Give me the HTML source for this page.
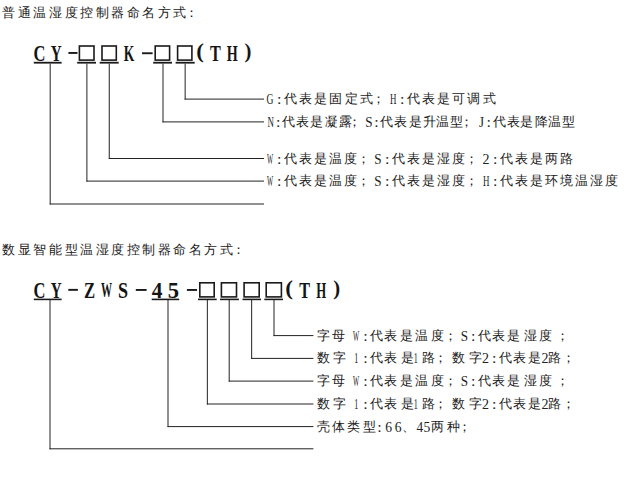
<!DOCTYPE html>
<html><head><meta charset="utf-8"><style>
html,body{margin:0;padding:0;background:#fff;width:626px;height:486px;overflow:hidden;position:relative}
.g,.gr{position:absolute;left:0;top:0;transform-origin:0 0;font-family:"Liberation Serif",serif;font-size:40px;line-height:60px;color:#141414;white-space:nowrap}
.g{font-weight:bold;-webkit-text-stroke:0px #141414}
.gr{color:#222}
.r,.b{position:absolute}
.t,.tt{position:absolute;width:30px;height:30px;line-height:30px;text-align:center;font-family:"Liberation Sans",sans-serif;font-size:13px;color:#1a1a1a}
</style></head><body>
<div class="g" style="transform:translate(33.38px,36.49px) scale(0.4125,0.5654)">C</div>
<div class="g" style="transform:translate(50.72px,36.49px) scale(0.3778,0.5654)">Y</div>
<div class="g" style="transform:translate(123.86px,36.49px) scale(0.3400,0.5654)">K</div>
<div class="g" style="transform:translate(196.26px,36.72px) scale(0.5700,0.5056)">(</div>
<div class="g" style="transform:translate(209.90px,36.49px) scale(0.4040,0.5654)">T</div>
<div class="g" style="transform:translate(226.75px,36.49px) scale(0.3533,0.5654)">H</div>
<div class="g" style="transform:translate(244.38px,35.98px) scale(0.5182,0.5200)">)</div>
<div class="g" style="transform:translate(33.38px,273.92px) scale(0.4125,0.5577)">C</div>
<div class="g" style="transform:translate(50.72px,273.92px) scale(0.3778,0.5577)">Y</div>
<div class="g" style="transform:translate(84.07px,273.92px) scale(0.4174,0.5577)">Z</div>
<div class="g" style="transform:translate(101.12px,274.27px) scale(0.2763,0.5370)">W</div>
<div class="g" style="transform:translate(118.09px,273.92px) scale(0.4526,0.5577)">S</div>
<div class="g" style="transform:translate(151.87px,273.92px) scale(0.5333,0.5577)">4</div>
<div class="g" style="transform:translate(167.87px,273.92px) scale(0.5647,0.5577)">5</div>
<div class="g" style="transform:translate(285.14px,273.36px) scale(0.5800,0.5028)">(</div>
<div class="g" style="transform:translate(299.30px,273.92px) scale(0.4040,0.5577)">T</div>
<div class="g" style="transform:translate(316.18px,273.92px) scale(0.3200,0.5577)">H</div>
<div class="g" style="transform:translate(333.28px,272.63px) scale(0.5182,0.5171)">)</div>
<svg width="626" height="486" style="position:absolute;left:0;top:0"><rect x="79.40" y="46.00" width="14.60" height="14.10" fill="none" stroke="#1a1a1a" stroke-width="1.6"/><rect x="102.00" y="46.00" width="14.30" height="14.10" fill="none" stroke="#1a1a1a" stroke-width="1.6"/><rect x="155.20" y="46.00" width="14.40" height="14.10" fill="none" stroke="#1a1a1a" stroke-width="1.6"/><rect x="177.60" y="46.00" width="14.30" height="14.10" fill="none" stroke="#1a1a1a" stroke-width="1.6"/><rect x="33.8" y="61.8" width="27.80" height="1.80" fill="#1a1a1a"/><rect x="77.2" y="61.8" width="18.80" height="1.80" fill="#1a1a1a"/><rect x="99.7" y="61.8" width="19.00" height="1.80" fill="#1a1a1a"/><rect x="153.2" y="61.8" width="18.80" height="1.80" fill="#1a1a1a"/><rect x="175.6" y="61.8" width="19.10" height="1.80" fill="#1a1a1a"/><rect x="68.4" y="52.0" width="9.10" height="1.90" fill="#1a1a1a"/><rect x="142.0" y="52.3" width="10.60" height="1.90" fill="#1a1a1a"/><rect x="199.80" y="282.80" width="14.40" height="14.10" fill="none" stroke="#1a1a1a" stroke-width="1.6"/><rect x="221.40" y="282.80" width="15.10" height="14.10" fill="none" stroke="#1a1a1a" stroke-width="1.6"/><rect x="244.10" y="282.80" width="15.10" height="14.10" fill="none" stroke="#1a1a1a" stroke-width="1.6"/><rect x="266.20" y="282.80" width="15.20" height="14.10" fill="none" stroke="#1a1a1a" stroke-width="1.6"/><rect x="33.8" y="298.6" width="27.80" height="1.60" fill="#1a1a1a"/><rect x="151.7" y="298.6" width="27.50" height="1.60" fill="#1a1a1a"/><rect x="198.0" y="298.6" width="18.70" height="1.60" fill="#1a1a1a"/><rect x="220.0" y="298.6" width="18.90" height="1.60" fill="#1a1a1a"/><rect x="242.5" y="298.6" width="18.50" height="1.60" fill="#1a1a1a"/><rect x="264.3" y="298.6" width="18.70" height="1.60" fill="#1a1a1a"/><rect x="68.3" y="288.9" width="9.60" height="1.90" fill="#1a1a1a"/><rect x="135.8" y="289.0" width="10.80" height="1.90" fill="#1a1a1a"/><rect x="186.9" y="289.0" width="10.10" height="1.90" fill="#1a1a1a"/><line x1="50.2" y1="63.6" x2="50.2" y2="204.5" stroke="#222" stroke-width="1.0"/><line x1="49.7" y1="204.0" x2="264.0" y2="204.0" stroke="#222" stroke-width="1.0"/><line x1="86.9" y1="63.6" x2="86.9" y2="181.6" stroke="#222" stroke-width="1.0"/><line x1="86.4" y1="181.1" x2="264.0" y2="181.1" stroke="#222" stroke-width="1.0"/><line x1="109.25" y1="63.6" x2="109.25" y2="159.0" stroke="#222" stroke-width="1.0"/><line x1="108.75" y1="158.5" x2="264.0" y2="158.5" stroke="#222" stroke-width="1.0"/><line x1="163.0" y1="63.6" x2="163.0" y2="122.4" stroke="#222" stroke-width="1.0"/><line x1="162.5" y1="121.9" x2="264.0" y2="121.9" stroke="#222" stroke-width="1.0"/><line x1="185.15" y1="63.6" x2="185.15" y2="99.6" stroke="#222" stroke-width="1.0"/><line x1="184.65" y1="99.1" x2="264.0" y2="99.1" stroke="#222" stroke-width="1.0"/><line x1="50.0" y1="300.0" x2="50.0" y2="449.3" stroke="#222" stroke-width="1.0"/><line x1="49.5" y1="448.8" x2="313.4" y2="448.8" stroke="#222" stroke-width="1.0"/><line x1="168.0" y1="300.0" x2="168.0" y2="427.1" stroke="#222" stroke-width="1.0"/><line x1="167.5" y1="426.6" x2="313.4" y2="426.6" stroke="#222" stroke-width="1.0"/><line x1="207.35" y1="300.0" x2="207.35" y2="404.5" stroke="#222" stroke-width="1.0"/><line x1="206.85" y1="404.0" x2="313.4" y2="404.0" stroke="#222" stroke-width="1.0"/><line x1="229.2" y1="300.0" x2="229.2" y2="381.6" stroke="#222" stroke-width="1.0"/><line x1="228.7" y1="381.1" x2="313.4" y2="381.1" stroke="#222" stroke-width="1.0"/><line x1="251.65" y1="300.0" x2="251.65" y2="358.9" stroke="#222" stroke-width="1.0"/><line x1="251.15" y1="358.4" x2="313.4" y2="358.4" stroke="#222" stroke-width="1.0"/><line x1="274.0" y1="300.0" x2="274.0" y2="336.1" stroke="#222" stroke-width="1.0"/><line x1="273.5" y1="335.6" x2="313.4" y2="335.6" stroke="#222" stroke-width="1.0"/></svg>
<div class="tt" style="left:-6.20px;top:-2.10px">普</div>
<div class="tt" style="left:9.35px;top:-2.10px">通</div>
<div class="tt" style="left:24.90px;top:-2.10px">温</div>
<div class="tt" style="left:40.45px;top:-2.10px">湿</div>
<div class="tt" style="left:56.00px;top:-2.10px">度</div>
<div class="tt" style="left:71.55px;top:-2.10px">控</div>
<div class="tt" style="left:87.10px;top:-2.10px">制</div>
<div class="tt" style="left:102.65px;top:-2.10px">器</div>
<div class="tt" style="left:118.20px;top:-2.10px">命</div>
<div class="tt" style="left:133.75px;top:-2.10px">名</div>
<div class="tt" style="left:149.30px;top:-2.10px">方</div>
<div class="tt" style="left:164.85px;top:-2.10px">式</div>
<div class="tt" style="left:176.80px;top:-2.10px">：</div>
<div class="tt" style="left:-6.20px;top:234.50px">数</div>
<div class="tt" style="left:9.35px;top:234.50px">显</div>
<div class="tt" style="left:24.90px;top:234.50px">智</div>
<div class="tt" style="left:40.45px;top:234.50px">能</div>
<div class="tt" style="left:56.00px;top:234.50px">型</div>
<div class="tt" style="left:71.55px;top:234.50px">温</div>
<div class="tt" style="left:87.10px;top:234.50px">湿</div>
<div class="tt" style="left:102.65px;top:234.50px">度</div>
<div class="tt" style="left:118.20px;top:234.50px">控</div>
<div class="tt" style="left:133.75px;top:234.50px">制</div>
<div class="tt" style="left:149.30px;top:234.50px">器</div>
<div class="tt" style="left:164.85px;top:234.50px">命</div>
<div class="tt" style="left:180.40px;top:234.50px">名</div>
<div class="tt" style="left:195.95px;top:234.50px">方</div>
<div class="tt" style="left:211.50px;top:234.50px">式</div>
<div class="tt" style="left:223.45px;top:234.50px">：</div>
<div class="gr" style="transform:translate(266.62px,88.82px) scale(0.2400,0.3577)">G</div>
<div class="gr" style="transform:translate(276.90px,89.49px) scale(0.4000,0.3421)">:</div>
<div class="t" style="left:275.30px;top:84.30px">代</div>
<div class="t" style="left:290.30px;top:84.30px">表</div>
<div class="t" style="left:305.30px;top:84.30px">是</div>
<div class="t" style="left:320.30px;top:84.30px">固</div>
<div class="t" style="left:336.10px;top:84.30px">定</div>
<div class="t" style="left:351.80px;top:84.30px">式</div>
<div class="t" style="left:363.60px;top:84.30px">；</div>
<div class="gr" style="transform:translate(389.88px,88.82px) scale(0.2222,0.3577)">H</div>
<div class="gr" style="transform:translate(399.90px,89.49px) scale(0.4000,0.3421)">:</div>
<div class="t" style="left:398.30px;top:84.30px">代</div>
<div class="t" style="left:413.30px;top:84.30px">表</div>
<div class="t" style="left:428.30px;top:84.30px">是</div>
<div class="t" style="left:443.30px;top:84.30px">可</div>
<div class="t" style="left:458.30px;top:84.30px">调</div>
<div class="t" style="left:474.80px;top:84.30px">式</div>
<div class="gr" style="transform:translate(267.38px,111.12px) scale(0.2222,0.3577)">N</div>
<div class="gr" style="transform:translate(276.10px,111.79px) scale(0.4000,0.3421)">:</div>
<div class="t" style="left:273.20px;top:106.60px">代</div>
<div class="t" style="left:287.20px;top:106.60px">表</div>
<div class="t" style="left:301.60px;top:106.60px">是</div>
<div class="t" style="left:316.30px;top:106.60px">凝</div>
<div class="t" style="left:330.10px;top:106.60px">露</div>
<div class="t" style="left:339.00px;top:106.60px">；</div>
<div class="gr" style="transform:translate(365.31px,111.12px) scale(0.3294,0.3577)">S</div>
<div class="gr" style="transform:translate(374.20px,111.79px) scale(0.4000,0.3421)">:</div>
<div class="t" style="left:371.80px;top:106.60px">代</div>
<div class="t" style="left:385.90px;top:106.60px">表</div>
<div class="t" style="left:400.00px;top:106.60px">是</div>
<div class="t" style="left:414.10px;top:106.60px">升</div>
<div class="t" style="left:427.50px;top:106.60px">温</div>
<div class="t" style="left:441.60px;top:106.60px">型</div>
<div class="t" style="left:451.80px;top:106.60px">；</div>
<div class="gr" style="transform:translate(478.93px,111.12px) scale(0.3214,0.3577)">J</div>
<div class="gr" style="transform:translate(486.60px,111.79px) scale(0.4000,0.3421)">:</div>
<div class="t" style="left:484.20px;top:106.60px">代</div>
<div class="t" style="left:498.10px;top:106.60px">表</div>
<div class="t" style="left:511.70px;top:106.60px">是</div>
<div class="t" style="left:526.10px;top:106.60px">降</div>
<div class="t" style="left:539.70px;top:106.60px">温</div>
<div class="t" style="left:553.20px;top:106.60px">型</div>
<div class="gr" style="transform:translate(267.00px,149.04px) scale(0.1632,0.3444)">W</div>
<div class="gr" style="transform:translate(276.90px,149.49px) scale(0.4000,0.3421)">:</div>
<div class="t" style="left:275.30px;top:144.30px">代</div>
<div class="t" style="left:290.30px;top:144.30px">表</div>
<div class="t" style="left:305.30px;top:144.30px">是</div>
<div class="t" style="left:320.30px;top:144.30px">温</div>
<div class="t" style="left:335.30px;top:144.30px">度</div>
<div class="t" style="left:348.60px;top:144.30px">；</div>
<div class="gr" style="transform:translate(374.31px,148.82px) scale(0.3294,0.3577)">S</div>
<div class="gr" style="transform:translate(384.90px,149.49px) scale(0.4000,0.3421)">:</div>
<div class="t" style="left:383.30px;top:144.30px">代</div>
<div class="t" style="left:398.30px;top:144.30px">表</div>
<div class="t" style="left:413.30px;top:144.30px">是</div>
<div class="t" style="left:428.30px;top:144.30px">湿</div>
<div class="t" style="left:443.30px;top:144.30px">度</div>
<div class="t" style="left:456.60px;top:144.30px">；</div>
<div class="gr" style="transform:translate(482.60px,148.82px) scale(0.3500,0.3577)">2</div>
<div class="gr" style="transform:translate(492.90px,149.49px) scale(0.4000,0.3421)">:</div>
<div class="t" style="left:491.30px;top:144.30px">代</div>
<div class="t" style="left:506.30px;top:144.30px">表</div>
<div class="t" style="left:521.30px;top:144.30px">是</div>
<div class="t" style="left:536.30px;top:144.30px">两</div>
<div class="t" style="left:551.30px;top:144.30px">路</div>
<div class="gr" style="transform:translate(267.00px,171.04px) scale(0.1632,0.3444)">W</div>
<div class="gr" style="transform:translate(276.90px,171.49px) scale(0.4000,0.3421)">:</div>
<div class="t" style="left:275.30px;top:166.30px">代</div>
<div class="t" style="left:290.30px;top:166.30px">表</div>
<div class="t" style="left:305.30px;top:166.30px">是</div>
<div class="t" style="left:320.30px;top:166.30px">温</div>
<div class="t" style="left:335.30px;top:166.30px">度</div>
<div class="t" style="left:348.60px;top:166.30px">；</div>
<div class="gr" style="transform:translate(374.31px,170.82px) scale(0.3294,0.3577)">S</div>
<div class="gr" style="transform:translate(384.90px,171.49px) scale(0.4000,0.3421)">:</div>
<div class="t" style="left:383.30px;top:166.30px">代</div>
<div class="t" style="left:398.30px;top:166.30px">表</div>
<div class="t" style="left:413.30px;top:166.30px">是</div>
<div class="t" style="left:428.30px;top:166.30px">湿</div>
<div class="t" style="left:443.30px;top:166.30px">度</div>
<div class="t" style="left:456.60px;top:166.30px">；</div>
<div class="gr" style="transform:translate(482.88px,170.82px) scale(0.2222,0.3577)">H</div>
<div class="gr" style="transform:translate(492.90px,171.49px) scale(0.4000,0.3421)">:</div>
<div class="t" style="left:491.30px;top:166.30px">代</div>
<div class="t" style="left:506.30px;top:166.30px">表</div>
<div class="t" style="left:521.30px;top:166.30px">是</div>
<div class="t" style="left:536.30px;top:166.30px">环</div>
<div class="t" style="left:551.30px;top:166.30px">境</div>
<div class="t" style="left:566.30px;top:166.30px">温</div>
<div class="t" style="left:581.30px;top:166.30px">湿</div>
<div class="t" style="left:596.30px;top:166.30px">度</div>
<div class="t" style="left:308.10px;top:321.10px">字</div>
<div class="t" style="left:323.40px;top:321.10px">母</div>
<div class="gr" style="transform:translate(353.00px,325.84px) scale(0.1632,0.3444)">W</div>
<div class="gr" style="transform:translate(363.20px,326.29px) scale(0.4000,0.3421)">:</div>
<div class="t" style="left:361.10px;top:321.10px">代</div>
<div class="t" style="left:375.50px;top:321.10px">表</div>
<div class="t" style="left:391.30px;top:321.10px">是</div>
<div class="t" style="left:406.70px;top:321.10px">温</div>
<div class="t" style="left:422.20px;top:321.10px">度</div>
<div class="t" style="left:435.20px;top:321.10px">；</div>
<div class="gr" style="transform:translate(460.81px,325.62px) scale(0.3294,0.3577)">S</div>
<div class="gr" style="transform:translate(471.00px,326.29px) scale(0.4000,0.3421)">:</div>
<div class="t" style="left:469.00px;top:321.10px">代</div>
<div class="t" style="left:483.20px;top:321.10px">表</div>
<div class="t" style="left:498.40px;top:321.10px">是</div>
<div class="t" style="left:515.00px;top:321.10px">湿</div>
<div class="t" style="left:530.00px;top:321.10px">度</div>
<div class="t" style="left:547.90px;top:321.10px">；</div>
<div class="t" style="left:308.10px;top:343.30px">数</div>
<div class="t" style="left:324.10px;top:343.30px">字</div>
<div class="gr" style="transform:translate(354.20px,347.82px) scale(0.2000,0.3577)">1</div>
<div class="gr" style="transform:translate(363.20px,348.49px) scale(0.4000,0.3421)">:</div>
<div class="t" style="left:361.10px;top:343.30px">代</div>
<div class="t" style="left:375.50px;top:343.30px">表</div>
<div class="t" style="left:392.00px;top:343.30px">是</div>
<div class="gr" style="transform:translate(413.80px,347.82px) scale(0.2000,0.3577)">1</div>
<div class="t" style="left:413.10px;top:343.30px">路</div>
<div class="t" style="left:425.00px;top:343.30px">；</div>
<div class="t" style="left:443.80px;top:343.30px">数</div>
<div class="t" style="left:460.10px;top:343.30px">字</div>
<div class="gr" style="transform:translate(481.90px,347.82px) scale(0.3500,0.3577)">2</div>
<div class="gr" style="transform:translate(492.10px,348.49px) scale(0.4000,0.3421)">:</div>
<div class="t" style="left:490.00px;top:343.30px">代</div>
<div class="t" style="left:504.10px;top:343.30px">表</div>
<div class="t" style="left:519.90px;top:343.30px">是</div>
<div class="gr" style="transform:translate(541.50px,347.82px) scale(0.3500,0.3577)">2</div>
<div class="t" style="left:539.70px;top:343.30px">路</div>
<div class="t" style="left:553.70px;top:343.30px">；</div>
<div class="t" style="left:308.10px;top:366.30px">字</div>
<div class="t" style="left:323.40px;top:366.30px">母</div>
<div class="gr" style="transform:translate(353.00px,371.04px) scale(0.1632,0.3444)">W</div>
<div class="gr" style="transform:translate(363.20px,371.49px) scale(0.4000,0.3421)">:</div>
<div class="t" style="left:361.10px;top:366.30px">代</div>
<div class="t" style="left:375.50px;top:366.30px">表</div>
<div class="t" style="left:391.30px;top:366.30px">是</div>
<div class="t" style="left:406.70px;top:366.30px">温</div>
<div class="t" style="left:422.20px;top:366.30px">度</div>
<div class="t" style="left:435.20px;top:366.30px">；</div>
<div class="gr" style="transform:translate(460.81px,370.82px) scale(0.3294,0.3577)">S</div>
<div class="gr" style="transform:translate(471.00px,371.49px) scale(0.4000,0.3421)">:</div>
<div class="t" style="left:469.00px;top:366.30px">代</div>
<div class="t" style="left:483.20px;top:366.30px">表</div>
<div class="t" style="left:498.40px;top:366.30px">是</div>
<div class="t" style="left:515.00px;top:366.30px">湿</div>
<div class="t" style="left:530.00px;top:366.30px">度</div>
<div class="t" style="left:547.90px;top:366.30px">；</div>
<div class="t" style="left:308.10px;top:389.10px">数</div>
<div class="t" style="left:324.10px;top:389.10px">字</div>
<div class="gr" style="transform:translate(354.20px,393.62px) scale(0.2000,0.3577)">1</div>
<div class="gr" style="transform:translate(363.20px,394.29px) scale(0.4000,0.3421)">:</div>
<div class="t" style="left:361.10px;top:389.10px">代</div>
<div class="t" style="left:375.50px;top:389.10px">表</div>
<div class="t" style="left:392.00px;top:389.10px">是</div>
<div class="gr" style="transform:translate(413.80px,393.62px) scale(0.2000,0.3577)">1</div>
<div class="t" style="left:413.10px;top:389.10px">路</div>
<div class="t" style="left:425.00px;top:389.10px">；</div>
<div class="t" style="left:443.80px;top:389.10px">数</div>
<div class="t" style="left:460.10px;top:389.10px">字</div>
<div class="gr" style="transform:translate(481.90px,393.62px) scale(0.3500,0.3577)">2</div>
<div class="gr" style="transform:translate(492.10px,394.29px) scale(0.4000,0.3421)">:</div>
<div class="t" style="left:490.00px;top:389.10px">代</div>
<div class="t" style="left:504.10px;top:389.10px">表</div>
<div class="t" style="left:519.90px;top:389.10px">是</div>
<div class="gr" style="transform:translate(541.50px,393.62px) scale(0.3500,0.3577)">2</div>
<div class="t" style="left:539.70px;top:389.10px">路</div>
<div class="t" style="left:553.70px;top:389.10px">；</div>
<div class="t" style="left:308.20px;top:411.80px">壳</div>
<div class="t" style="left:323.50px;top:411.80px">体</div>
<div class="t" style="left:338.90px;top:411.80px">类</div>
<div class="t" style="left:354.90px;top:411.80px">型</div>
<div class="gr" style="transform:translate(377.30px,416.99px) scale(0.4000,0.3421)">:</div>
<div class="gr" style="transform:translate(385.22px,416.32px) scale(0.3412,0.3577)">6</div>
<div class="gr" style="transform:translate(394.82px,416.32px) scale(0.3412,0.3577)">6</div>
<div class="t" style="left:393.80px;top:411.80px">、</div>
<div class="gr" style="transform:translate(416.57px,416.32px) scale(0.3333,0.3577)">4</div>
<div class="gr" style="transform:translate(423.52px,416.32px) scale(0.3412,0.3577)">5</div>
<div class="t" style="left:422.90px;top:411.80px">两</div>
<div class="t" style="left:438.10px;top:411.80px">种</div>
<div class="t" style="left:449.60px;top:411.80px">；</div>
</body></html>
